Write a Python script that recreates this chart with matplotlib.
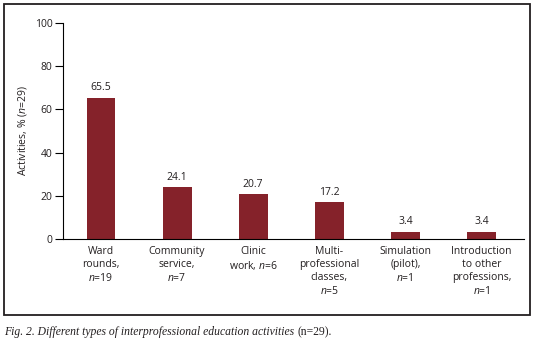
import matplotlib.pyplot as plt
from matplotlib.patches import Rectangle

plt.rcParams['font.family'] = 'Open Sans'
plt.rcParams['mathtext.fontset'] = 'custom'
plt.rcParams['mathtext.it'] = 'Open Sans:italic'
plt.rcParams['mathtext.rm'] = 'Open Sans'

# data
labels = ['Ward\nrounds,\n$n$=19', 'Community\nservice,\n$n$=7', 'Clinic\nwork, $n$=6',
          'Multi-\nprofessional\nclasses,\n$n$=5', 'Simulation\n(pilot),\n$n$=1',
          'Introduction\nto other\nprofessions,\n$n$=1']
pct = [65.5, 24.1, 20.7, 17.2, 3.4, 3.4]
pct_txt = ['65.5', '24.1', '20.7', '17.2', '3.4', '3.4']

fig = plt.figure(figsize=(5.37, 3.45), dpi=100)
ax = fig.add_axes([63/537, 1-239/345, (524-63)/537, (239-23)/345])

x = range(len(pct))
ax.bar(x, pct, width=0.38, color='#85222a')
for i, v in enumerate(pct):
    ax.text(i, v + 2.0, pct_txt[i], ha='center', va='bottom', fontsize=7.5, color='#231f20')

ax.set_xlim(-0.5, 5.56)
ax.set_ylim(0, 100)
ax.set_yticks([0, 20, 40, 60, 80, 100])
ax.set_xticks(list(x))
ax.set_xticklabels(labels, fontsize=7.5, color='#231f20', linespacing=1.25)
ax.tick_params(axis='x', length=0, pad=5)
ax.tick_params(axis='y', length=5.5, width=0.8, labelsize=7.5, labelcolor='#231f20', pad=2)
ax.spines['top'].set_visible(False)
ax.spines['right'].set_visible(False)
ax.spines['left'].set_linewidth(0.8)
ax.spines['bottom'].set_linewidth(0.8)
ax.set_ylabel('Activities, % ($n$=29)', fontsize=7.5, color='#231f20', labelpad=4)

# outer frame
fig.patches.append(Rectangle((4/537, 1-315/345), (530-4)/537, (315-4)/345,
                             transform=fig.transFigure, fill=False, lw=1.3, ec='#231f20'))

# caption
t1 = fig.text(4/537, 1-335/345, 'Fig. 2. Different types of interprofessional education activities ',
              fontsize=8.4, family='Liberation Serif', style='italic', color='#231f20')
ax.annotate('(n=29).', xy=(1, 0), xycoords=t1, va='bottom', ha='left',
            fontsize=8.4, family='Liberation Serif', color='#231f20', annotation_clip=False)

plt.savefig('out.png', dpi=100)
